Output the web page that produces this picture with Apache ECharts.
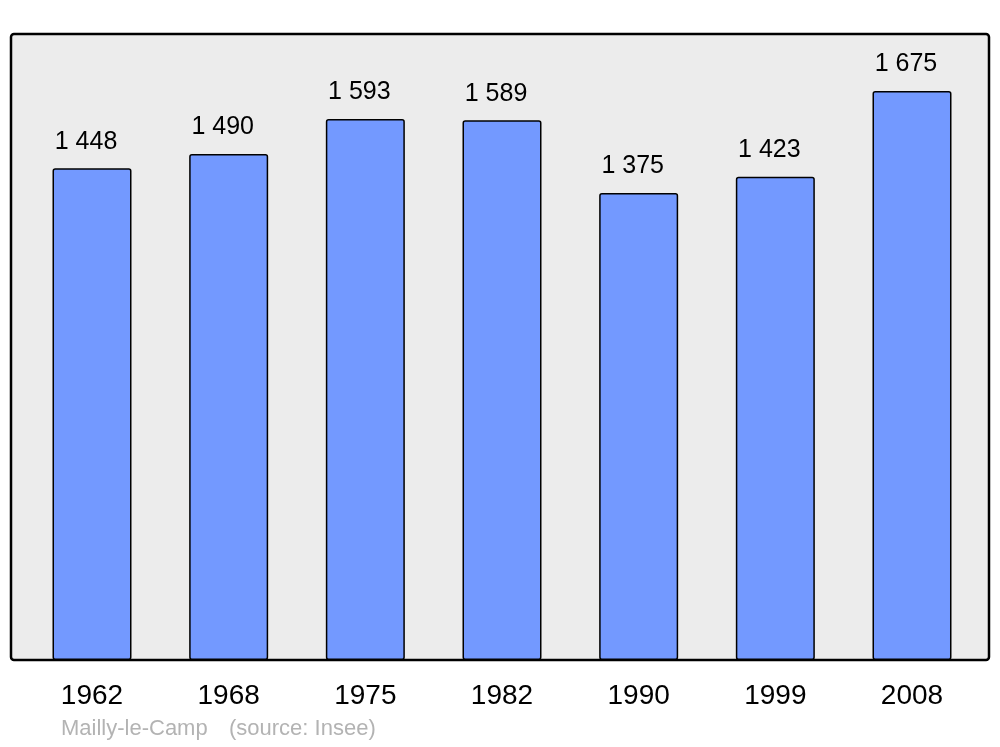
<!DOCTYPE html>
<html>
<head>
<meta charset="utf-8">
<script src="https://cdn.jsdelivr.net/npm/echarts@6/dist/echarts.min.js"></script>
<style>html,body{margin:0;padding:0;background:#fff}#c{width:1000px;height:747px}</style>
</head>
<body>
<div id="c"></div>
<script>
const years = ['1962','1968','1975','1982','1990','1999','2008'];
const population = [1448, 1490, 1593, 1589, 1375, 1423, 1675];
const footerName = 'Mailly-le-Camp';
const footerSource = '(source: Insee)';

function fmt(v){ return String(v).replace(/\B(?=(\d{3})+(?!\d))/g, ' '); }

const chart = echarts.init(document.getElementById('c'), null, {renderer:'canvas'});
chart.setOption({
  animation: false,
  backgroundColor: '#ffffff',
  textStyle: {fontFamily: 'Liberation Sans, Arial, sans-serif'},
  graphic: [
    {type:'rect', z:0, shape:{x:11, y:34, width:978, height:626, r:3},
     style:{fill:'#ececec', stroke:'#000', lineWidth:2.5}},
    {type:'text', z:5, left:61, top:718,
     style:{text: footerName, fill:'#b3b3b3', font:'22px "Liberation Sans", Arial, sans-serif'}},
    {type:'text', z:5, left:229, top:718,
     style:{text: footerSource, fill:'#b3b3b3', font:'22px "Liberation Sans", Arial, sans-serif'}}
  ],
  grid: {left: 23.67, right: 19.67, top: 34, bottom: 87, containLabel: false},
  xAxis: {
    type:'category', data: years,
    axisLine:{show:false}, axisTick:{show:false},
    axisLabel:{fontSize:28, color:'#000', margin:22, fontFamily:'Liberation Sans, Arial, sans-serif'}
  },
  yAxis: {type:'value', min:0, max:1843, show:false, splitLine:{show:false}},
  series: [{
    type:'bar', data: population, barWidth:79, z:2,
    itemStyle:{color:'#7399ff', borderColor:'#000', borderWidth:1.5, borderRadius:2},
    label:{show:true, position:'top', distance:14, offset:[-6,0], fontSize:25, color:'#000',
      fontFamily:'Liberation Sans, Arial, sans-serif',
      formatter: p => fmt(p.value)}
  }]
});
</script>
</body>
</html>
